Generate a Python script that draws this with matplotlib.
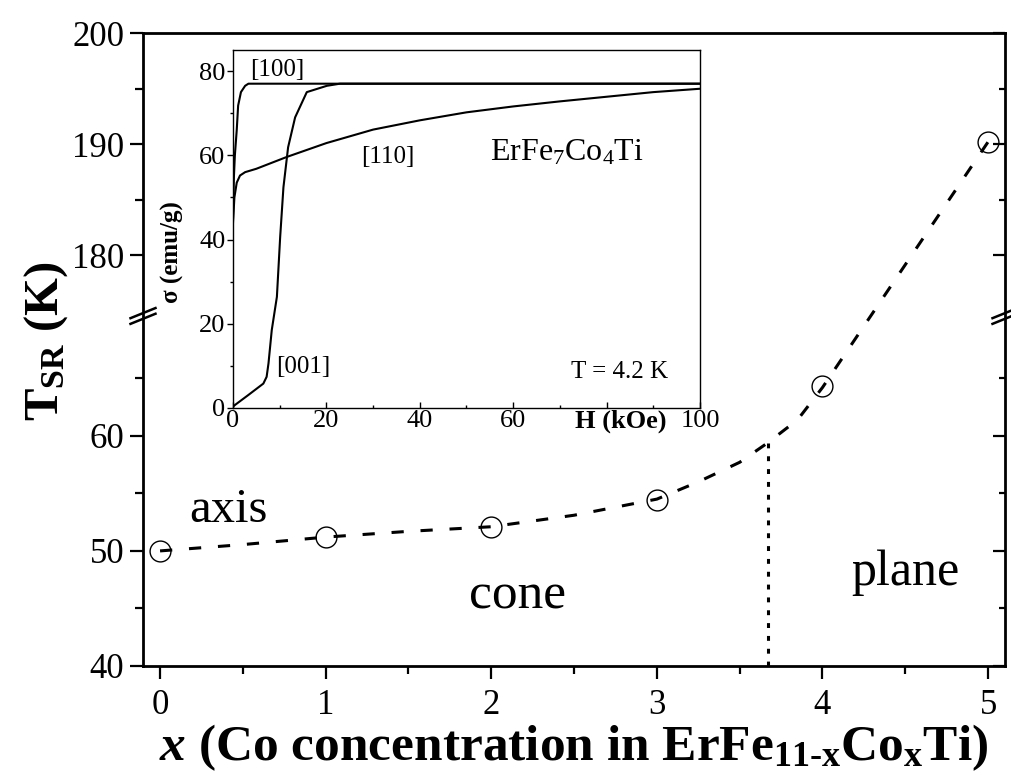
import numpy as np
import matplotlib
matplotlib.use("Agg")
import matplotlib.pyplot as plt
from matplotlib.ticker import FixedFormatter, NullFormatter

plt.rcParams['font.family'] = ['Liberation Serif', 'DejaVu Serif']
plt.rcParams['mathtext.fontset'] = 'custom'
plt.rcParams['mathtext.rm'] = 'Liberation Serif'
plt.rcParams['mathtext.it'] = 'Liberation Serif:italic:bold'
plt.rcParams['mathtext.bf'] = 'Liberation Serif:bold'

# === main data: spin reorientation temperature vs Co content ===
x_co = [0, 1, 2, 3, 4, 5]
t_sr = [50.0, 51.2, 52.1, 54.4, 64.3, 190.2]

# dashed guide line
guide_x = [0, 0.5, 1, 1.5, 2, 2.5, 3, 3.25, 3.5, 3.67, 3.85, 4, 5]
guide_y = [50.0, 50.55, 51.2, 51.7, 52.1, 53.1, 54.5, 56.0, 57.7, 59.4, 61.4, 64.2, 190.2]

# cone / plane boundary
x_boundary = [3.67, 3.67]
y_boundary = [40, 59.4]

y_major = [40, 50, 60, 180, 190, 200]
y_major_labels = ['40', '50', '60', '180', '190', '200']
y_minor = [45, 55, 65, 185, 195]

# === inset data: sigma(H) for ErFe7Co4Ti at 4.2 K ===
h_100 = [0, 0.2, 0.4, 0.8, 1.1, 1.7, 2.6, 3.3, 100]
s_100 = [45, 55, 60, 66, 71.8, 75, 76.5, 77.0, 77.0]

h_001 = [0, 0.4, 3.3, 6.5, 7.2, 7.6, 8.3, 9.4, 10.1, 10.8, 11.8, 13.3, 15.8, 20.1, 22.9, 100]
s_001 = [0.3, 0.7, 3.1, 5.8, 7.4, 10.6, 18.5, 26.4, 40.6, 52.4, 61.9, 69.0, 75.0, 76.5, 77.0, 77.0]

h_110 = [0, 0.3, 0.8, 1.5, 2.6, 5, 11.5, 20, 30, 40, 50, 60, 70, 80, 90, 100]
s_110 = [44, 50, 53.5, 55.2, 56.0, 56.8, 59.6, 62.9, 66.1, 68.3, 70.2, 71.6, 72.8, 73.9, 75.0, 75.8]


# broken y axis: 40..70 and 175..200 on one axis
def fwd(y):
    y = np.asarray(y, dtype=float)
    return np.where(y <= 70.5, y, np.maximum(70.5, 95.0 - (200.0 - y) * 0.965))


def inv(v):
    v = np.asarray(v, dtype=float)
    return np.where(v <= 70.5, v, 200.0 - (95.0 - v) / 0.965)


fig = plt.figure(figsize=(10.12, 7.81), dpi=100)
ax = fig.add_axes([143 / 1012, 115 / 781, 862 / 1012, 633 / 781])
ax.set_yscale('function', functions=(fwd, inv))

ax.plot(guide_x, guide_y, color='k', lw=2.2, ls=(0, (4, 5.5)))
ax.plot(x_co, t_sr, 'o', ms=15, mfc='none', mec='k', mew=1.0)
ax.plot(x_boundary, y_boundary, color='k', lw=2.2, ls=(0, (1.6, 2.6)), dash_capstyle='butt')

ax.set_xlim(-0.103, 5.102)
ax.set_ylim(40, 200)
ax.set_xticks([0, 1, 2, 3, 4, 5])
ax.set_xticks([0.5, 1.5, 2.5, 3.5, 4.5], minor=True)
ax.set_yticks(y_major)
ax.set_yticks(y_minor, minor=True)
ax.yaxis.set_major_formatter(FixedFormatter(y_major_labels))
ax.yaxis.set_minor_formatter(NullFormatter())

for sp in ax.spines.values():
    sp.set_linewidth(2.0)
ax.tick_params(which='both', direction='out', width=1.6, labelsize=25, top=False, right=False)
ax.tick_params(which='major', length=9.5, pad=4)
ax.tick_params(axis='x', which='major', pad=7)
ax.tick_params(which='minor', length=5.5)

# right-side inward ticks
axr = ax.twinx()
axr.set_yscale('function', functions=(fwd, inv))
axr.set_ylim(40, 200)
axr.set_yticks(y_major)
axr.set_yticks(y_minor, minor=True)
axr.yaxis.set_major_formatter(NullFormatter())
axr.yaxis.set_minor_formatter(NullFormatter())
axr.tick_params(which='both', direction='in', width=1.6)
axr.tick_params(which='major', length=8.5)
axr.tick_params(which='minor', length=4)
for sp in axr.spines.values():
    sp.set_visible(False)

# break marks on both spines
trans = ax.transAxes
yb = 0.553
for xc in (0.0, 1.0):
    for dy in (-0.0045, 0.0045):
        ax.plot([xc - 0.0145, xc + 0.0145], [yb + dy - 0.008, yb + dy + 0.008],
                color='k', lw=1.8, transform=trans, clip_on=False)

ax.set_xlabel(r'$x$ (Co concentration in ErFe$_{\mathbf{11‐x}}$Co$_{\mathbf{x}}$Ti)',
              fontsize=37, fontweight='bold', labelpad=0)
ax.set_ylabel(r'T$_{\mathbf{SR}}$ (K)', fontsize=35, fontweight='bold')
ax.yaxis.set_label_coords(-0.085, 0.513)

ax.text(0.175, 52.5, 'axis', fontsize=35, ha='left', va='baseline')
ax.text(2.16, 45.0, 'cone', fontsize=37, ha='center', va='baseline')
ax.text(4.5, 47.0, 'plane', fontsize=36, ha='center', va='baseline')

# === inset ===
axi = fig.add_axes([233 / 1012, 373 / 781, 467 / 1012, 358 / 781])
axi.plot(h_100, s_100, color='k', lw=1.5)
axi.plot(h_001, s_001, color='k', lw=1.5)
axi.plot(h_110, s_110, color='k', lw=1.5)
axi.set_xlim(0, 100)
axi.set_ylim(0, 85)
axi.set_xticks([0, 20, 40, 60, 80, 100])
axi.set_xticklabels(['0', '20', '40', '60', '', '100'])
axi.set_xticks([10, 30, 50, 70, 90], minor=True)
axi.set_yticks([0, 20, 40, 60, 80])
axi.set_yticks([10, 30, 50, 70], minor=True)
for sp in axi.spines.values():
    sp.set_linewidth(1.0)
axi.tick_params(axis='x', which='both', direction='in', labelsize=19, pad=1.5, width=1.0)
axi.tick_params(axis='y', which='both', direction='out', labelsize=19, pad=1.5, width=1.0)
axi.tick_params(which='major', length=4)
axi.tick_params(which='minor', length=2.5)
axi.set_xlabel('H (kOe)', fontsize=19, fontweight='bold', va='center')
axi.xaxis.set_label_coords(0.83, -0.037)
axi.set_ylabel('σ (emu/g)', fontsize=18, fontweight='bold')
axi.yaxis.set_label_coords(-0.105, 0.436)

axi.text(9.5, 80.3, '[100]', fontsize=18, ha='center', va='center')
axi.text(33.2, 59.7, '[110]', fontsize=18, ha='center', va='center')
axi.text(15.0, 9.7, '[001]', fontsize=18, ha='center', va='center')
axi.text(55.0, 58.8, r'ErFe$_7$Co$_4$Ti', fontsize=23, ha='left', va='baseline')
axi.text(82.7, 8.5, 'T = 4.2 K', fontsize=18, ha='center', va='center')

plt.savefig("out.png", dpi=100)
